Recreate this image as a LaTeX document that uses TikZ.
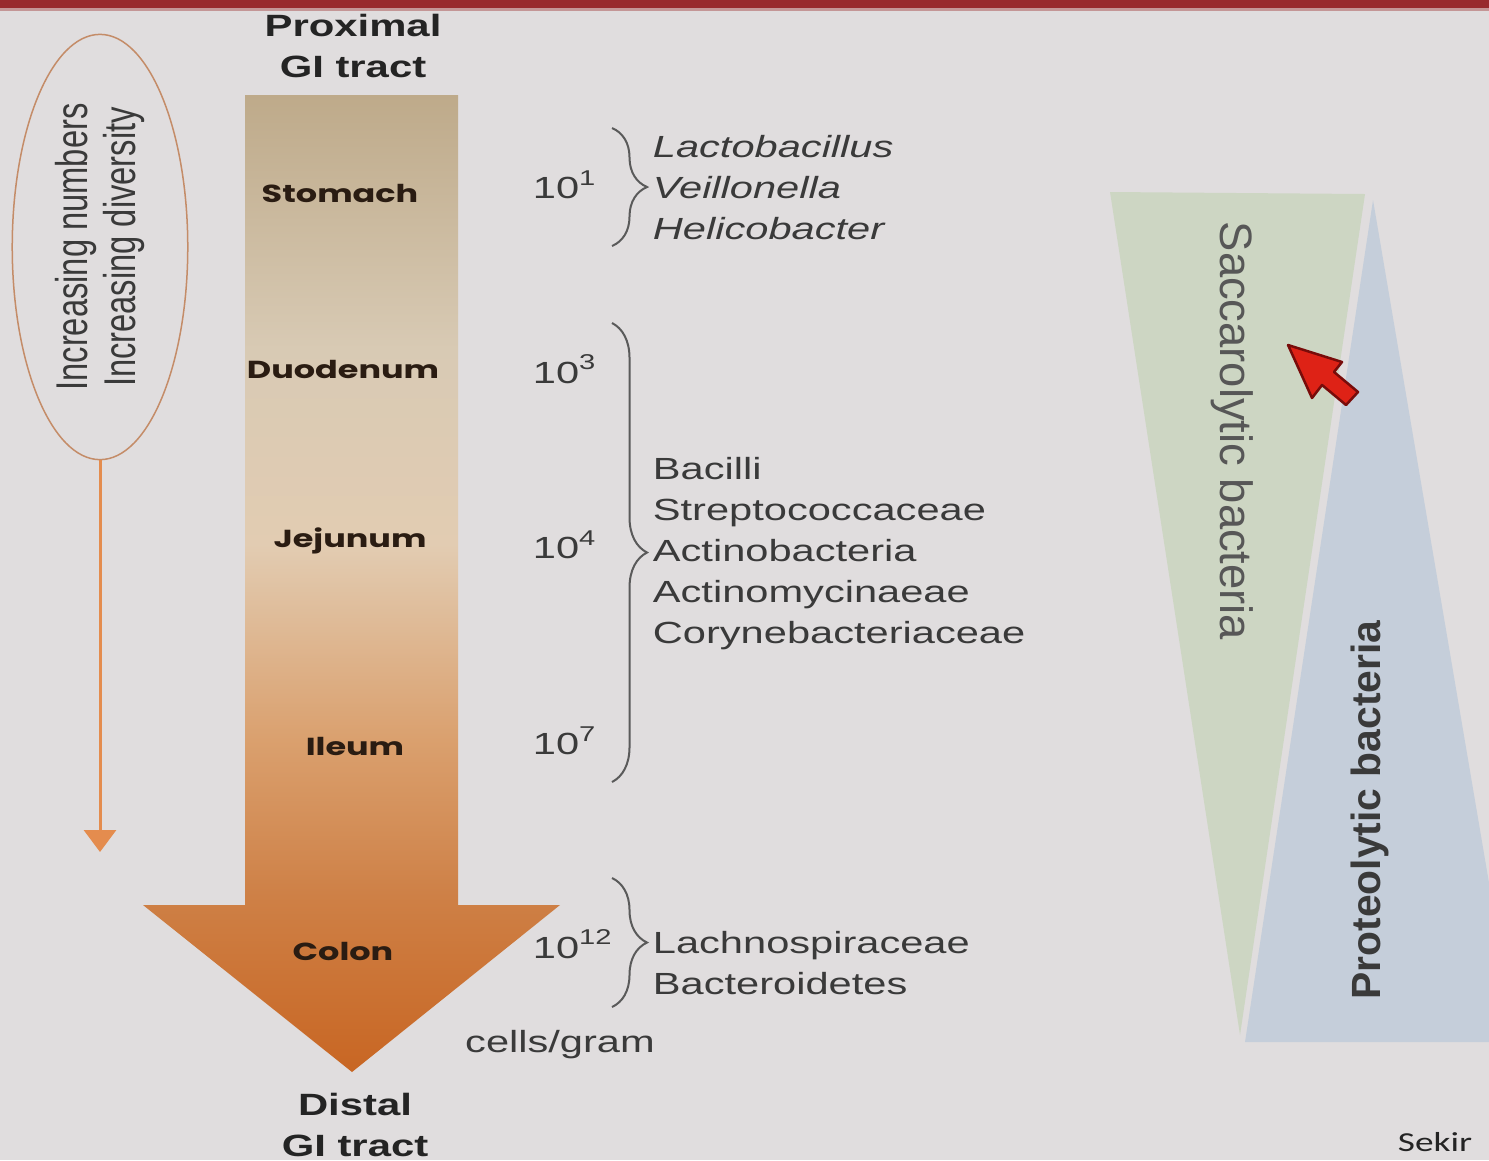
\documentclass[tikz,border=0pt]{standalone}
\usepackage{fontspec}
\setmainfont{Liberation Sans}
\newfontfamily\organfont{Poppins}
\newfontfamily\notefont{Carlito}
\usetikzlibrary{shapes.geometric,decorations.pathreplacing,arrows.meta}

\definecolor{bgcol}{RGB}{224,221,222}
\definecolor{barred}{RGB}{152,42,45}
\definecolor{barpink}{RGB}{196,150,150}
\definecolor{tractorange}{RGB}{228,140,78}
\definecolor{ringcol}{RGB}{196,140,104}
\definecolor{txtgray}{RGB}{58,58,58}
\definecolor{headtxt}{RGB}{36,36,36}
\definecolor{organtxt}{RGB}{42,28,18}
\definecolor{bracecol}{RGB}{90,90,90}
\definecolor{saccgreen}{RGB}{205,214,195}
\definecolor{protblue}{RGB}{197,206,218}
\definecolor{cursorred}{RGB}{222,34,22}
\definecolor{cursordark}{RGB}{120,12,10}
\definecolor{gtan}{RGB}{190,170,138}
\definecolor{glight}{RGB}{216,202,180}
\definecolor{glighter}{RGB}{226,204,178}
\definecolor{gorA}{RGB}{218,160,110}
\definecolor{gorB}{RGB}{206,128,70}
\definecolor{gorC}{RGB}{200,102,35}

\pgfdeclareverticalshading{gitract}{100bp}{color(0bp)=(gorC); color(25bp)=(gorC); color(34bp)=(gorB);
  color(42bp)=(gorA); color(52bp)=(glighter); color(62bp)=(glight); color(75bp)=(gtan); color(100bp)=(gtan)}

\newcommand{\taxafont}{\fontsize{8.7}{11.66}\selectfont}

\tikzset{
  stretched/.style={xscale=1.36},
  organ/.style={stretched,text=organtxt,font=\organfont\bfseries\fontsize{7}{8}\selectfont},
  count/.style={stretched,anchor=west,text=txtgray,font=\taxafont},
  taxa/.style={stretched,anchor=west,align=left,text=txtgray,font=\taxafont},
  endlabel/.style={stretched,align=center,text=headtxt,font=\bfseries\fontsize{8.75}{11.9}\selectfont},
  bracket/.style={decorate,decoration={brace,amplitude=0.35cm},draw=bracecol,line width=0.02cm},
}

\begin{document}
\begin{tikzpicture}[x=0.01cm,y=-0.01cm]
 \useasboundingbox (0,0) rectangle (1489,1160);
 \clip (0,0) rectangle (1489,1160);
 \fill[bgcol] (0,0) rectangle (1489,1160);
 \fill[barred] (0,0) rectangle (1489,8); \fill[barpink] (0,8) rectangle (1489,11);

 % left: ellipse with arrow down
 \node[stretched,rotate=90,ellipse,draw=ringcol,line width=0.015cm,inner sep=0pt,minimum width=4.25cm,minimum height=1.29cm,
   align=center,text=txtgray,font=\fontsize{9.3}{10.2}\selectfont] (incr) at (100,247) {Increasing numbers\\Increasing diversity};
 \coordinate (incrend) at (100,852);
 \draw[tractorange,line width=0.03cm,-{Triangle[length=0.22cm,width=0.32cm]}] (incr.west) -- (incrend);

 % GI tract arrow
 \shade[shading=gitract] (245,95) -- (458,95) -- (458,905) -- (560,905) -- (352,1072) -- (143,905) -- (245,905) -- cycle;
 \node[endlabel] (prox) at (353,46) {Proximal\\GI tract};
 \node[endlabel] (dist) at (355,1125) {Distal\\GI tract};
 \node[organ] (stomach) at (340,193) {Stomach};
 \node[organ] (duod) at (343,369) {Duodenum};
 \node[organ] (jejun) at (350,541) {Jejunum};
 \node[organ] (ileum) at (355,746) {Ileum};
 \node[organ] (colon) at (343,951) {Colon};

 % counts and braces
 \node[count] (n1) at (516,185) {10\textsuperscript{1}};
 \node[count] (n3) at (516,369) {10\textsuperscript{3}};
 \node[count] (n4) at (516,545) {10\textsuperscript{4}};
 \node[count] (n7) at (516,741) {10\textsuperscript{7}};
 \node[count] (n12) at (516,944) {10\textsuperscript{12}};
 \node[count,anchor=center] (unit) at (560,1045) {cells/gram};
 \coordinate (b1t) at (612,128); \coordinate (b1b) at (612,246);
 \coordinate (b2t) at (612,323); \coordinate (b2b) at (612,782);
 \coordinate (b3t) at (612,878); \coordinate (b3b) at (612,1007);
 \draw[bracket] (b1t) -- (b1b);
 \draw[bracket] (b2t) -- (b2b);
 \draw[bracket] (b3t) -- (b3b);
 \node[taxa,font=\taxafont\itshape] (g1) at (636,188) {Lactobacillus\\Veillonella\\Helicobacter};
 \node[taxa] (g2) at (636,554) {Bacilli\\Streptococcaceae\\Actinobacteria\\Actinomycinaeae\\Corynebacteriaceae};
 \node[taxa] (g3) at (636,963) {Lachnospiraceae\\Bacteroidetes};

 % right: wedges
 \fill[saccgreen] (1110,192) -- (1365,194) -- (1240,1035) -- cycle;
 \fill[protblue] (1373,200) -- (1516,1042) -- (1245,1042) -- cycle;
 \node[rotate=-90,text=txtgray!85,font=\fontsize{12.9}{14}\selectfont] (sacc) at (1232,431) {Saccarolytic bacteria};
 \node[rotate=90,text=txtgray,font=\bfseries\fontsize{11.6}{14}\selectfont] (prot) at (1370,810) {Proteolytic bacteria};
 % pointer
 \filldraw[fill=cursorred,draw=cursordark,line width=0.025cm,line join=round]
   (1288,345) -- (1342,362) -- (1334,372) -- (1358,392) -- (1346,405) -- (1322,385) -- (1312,398) -- cycle;
 \node[stretched,anchor=east,text=headtxt,font=\notefont\fontsize{7.8}{9}\selectfont] (cite) at (1489,1142) {Sekir};
\end{tikzpicture}
\end{document}
